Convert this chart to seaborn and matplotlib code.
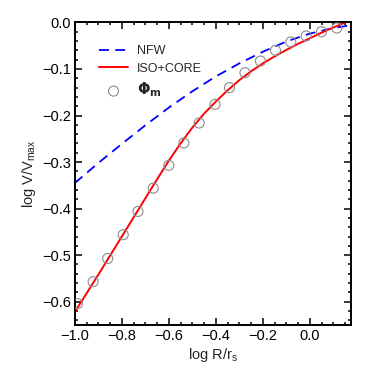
import numpy as np
import pandas as pd
import matplotlib
matplotlib.use("Agg")
import matplotlib.pyplot as plt
import seaborn as sns
from matplotlib.ticker import MultipleLocator

# NFW curve
nfw_x = [-1.0, -0.9, -0.8, -0.7, -0.6, -0.5, -0.4, -0.3, -0.2, -0.1, 0.0, 0.1, 0.2]
nfw_y = [-0.345, -0.302, -0.261, -0.221, -0.183, -0.148, -0.116, -0.088, -0.063, -0.041, -0.024, -0.012, -0.004]

# ISO+CORE curve
iso_x = [-1.0, -0.95, -0.9, -0.85, -0.8, -0.75, -0.7, -0.65, -0.6, -0.55, -0.5, -0.45,
         -0.4, -0.35, -0.3, -0.25, -0.2, -0.15, -0.1, -0.05, 0.0, 0.05, 0.1, 0.15, 0.18]
iso_y = [-0.622, -0.582, -0.542, -0.501, -0.460, -0.419, -0.378, -0.337, -0.297, -0.260,
         -0.226, -0.196, -0.170, -0.146, -0.124, -0.105, -0.088, -0.073, -0.059, -0.046,
         -0.034, -0.022, -0.011, 0.000, 0.006]

# Phi_m points
phi_x = [-0.989, -0.922, -0.860, -0.794, -0.731, -0.666, -0.600, -0.536, -0.471,
         -0.403, -0.342, -0.276, -0.210, -0.146, -0.081, -0.016, 0.050, 0.115]
phi_y = [-0.604, -0.557, -0.507, -0.456, -0.406, -0.356, -0.307, -0.259, -0.216,
         -0.176, -0.140, -0.108, -0.083, -0.060, -0.042, -0.029, -0.020, -0.012]

sns.set_style("ticks")
plt.rcParams['font.family'] = ['Liberation Sans', 'DejaVu Sans']
plt.rcParams['mathtext.fontset'] = 'dejavusans'

fig = plt.figure(figsize=(3.74, 3.74), dpi=100)
ax = fig.add_axes([0.2, 0.131, 0.739, 0.809])

df_nfw = pd.DataFrame({"x": nfw_x, "y": nfw_y})
df_iso = pd.DataFrame({"x": iso_x, "y": iso_y})
df_phi = pd.DataFrame({"x": phi_x, "y": phi_y})

sns.lineplot(data=df_nfw, x="x", y="y", ax=ax, color="#0000ff", lw=1.3,
             label="NFW", sort=False)
ax.lines[-1].set_dashes([5.5, 3.5])
sns.lineplot(data=df_iso, x="x", y="y", ax=ax, color="#ff0000", lw=1.4,
             label="ISO+CORE", sort=False)
sns.scatterplot(data=df_phi, x="x", y="y", ax=ax, marker="o", s=52,
                facecolors="none", edgecolor="#8c8c8c", linewidth=0.8,
                label=r"$\mathbf{\Phi_m}$", zorder=3)

ax.set_xlim(-1.0, 0.176)
ax.set_ylim(-0.65, 0.0)
ax.xaxis.set_minor_locator(MultipleLocator(0.05))
ax.yaxis.set_major_locator(MultipleLocator(0.1))
ax.yaxis.set_minor_locator(MultipleLocator(0.02))
ax.tick_params(which="both", direction="in", top=True, right=True, width=1.1,
               labelsize=10.5, colors="black")
ax.tick_params(which="major", length=5, pad=3)
ax.tick_params(which="minor", length=2.5)
xt = np.round(np.arange(-1.0, 0.01, 0.2), 1)
ax.set_xticks(xt)
ax.set_xticklabels([f"{v:.1f}".replace("-", "\u2212") if v != 0 else "0.0" for v in xt])
for s in ax.spines.values():
    s.set_linewidth(1.4)
    s.set_color("black")

ax.set_xlabel(r"log R/r$_\mathregular{s}$", fontsize=10.5, labelpad=2)
ax.set_ylabel(r"log V/V$_\mathregular{max}$", fontsize=10.5, labelpad=3)

leg = ax.legend(loc="upper left", bbox_to_anchor=(0.088, 0.925), frameon=False,
                fontsize=9, handlelength=2.3, handletextpad=0.7, labelspacing=0.45,
                borderpad=0, borderaxespad=0)
leg.legend_handles[2].set_sizes([52])
leg.get_texts()[2].set_fontsize(10.5)

fig.savefig("out.png", dpi=100)
